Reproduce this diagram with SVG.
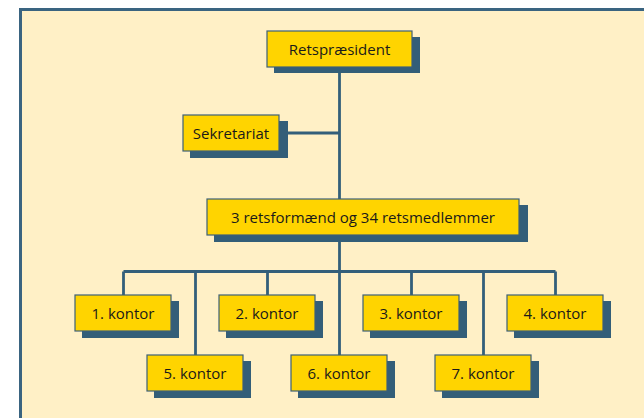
<svg xmlns="http://www.w3.org/2000/svg" width="644" height="418" viewBox="0 0 644 418">
<defs>
<style>
.frame{fill:#FFF0C6;stroke:#3A6480;stroke-width:3}
.shadow{fill:#335E78}
.box{fill:#FFD400;stroke:#3D6079;stroke-width:1.2}
.lbl{font-family:"Open Sans","Noto Sans","Liberation Sans",sans-serif;font-size:15px;fill:#1a1a1a;text-anchor:middle}
.conn{fill:none;stroke:#335F7A;stroke-width:2.8}
</style>
</defs>
<rect width="644" height="418" fill="#ffffff"/>
<rect class="frame" x="20.5" y="9.5" width="640" height="420"/>
<g id="connectors">
<path class="conn" d="M339.5 67 V271.5"/>
<path class="conn" d="M279 133 H339.5"/>
<path class="conn" d="M123.5 271.5 H555.5"/>
<path class="conn" d="M123.5 271.5 V295 M267.5 271.5 V295 M411.5 271.5 V295 M555.5 271.5 V295"/>
<path class="conn" d="M195.5 271.5 V355 M339.5 271.5 V355 M483.5 271.5 V355"/>
</g>
<g id="retspraesident">
<rect class="shadow" x="274" y="37" width="146" height="36"/>
<rect class="box" x="267" y="31" width="145" height="36"/>
<text class="lbl" x="339.5" y="55">Retspræsident</text>
</g>
<g id="sekretariat">
<rect class="shadow" x="190" y="121" width="98" height="37"/>
<rect class="box" x="183" y="115" width="96" height="36"/>
<text class="lbl" x="231" y="139">Sekretariat</text>
</g>
<g id="retsformaend">
<rect class="shadow" x="214" y="205" width="314" height="37"/>
<rect class="box" x="207" y="199" width="312" height="36"/>
<text class="lbl" x="363" y="223">3 retsformænd og 34 retsmedlemmer</text>
</g>
<g id="kontor1">
<rect class="shadow" x="82" y="301" width="97" height="37"/>
<rect class="box" x="75" y="295" width="96" height="36"/>
<text class="lbl" x="123" y="319">1. kontor</text>
</g>
<g id="kontor2">
<rect class="shadow" x="226" y="301" width="97" height="37"/>
<rect class="box" x="219" y="295" width="96" height="36"/>
<text class="lbl" x="267" y="319">2. kontor</text>
</g>
<g id="kontor3">
<rect class="shadow" x="370" y="301" width="97" height="37"/>
<rect class="box" x="363" y="295" width="96" height="36"/>
<text class="lbl" x="411" y="319">3. kontor</text>
</g>
<g id="kontor4">
<rect class="shadow" x="514" y="301" width="97" height="37"/>
<rect class="box" x="507" y="295" width="96" height="36"/>
<text class="lbl" x="555" y="319">4. kontor</text>
</g>
<g id="kontor5">
<rect class="shadow" x="154" y="361" width="97" height="37"/>
<rect class="box" x="147" y="355" width="96" height="36"/>
<text class="lbl" x="195" y="379">5. kontor</text>
</g>
<g id="kontor6">
<rect class="shadow" x="298" y="361" width="97" height="37"/>
<rect class="box" x="291" y="355" width="96" height="36"/>
<text class="lbl" x="339" y="379">6. kontor</text>
</g>
<g id="kontor7">
<rect class="shadow" x="442" y="361" width="97" height="37"/>
<rect class="box" x="435" y="355" width="96" height="36"/>
<text class="lbl" x="483" y="379">7. kontor</text>
</g>
</svg>
